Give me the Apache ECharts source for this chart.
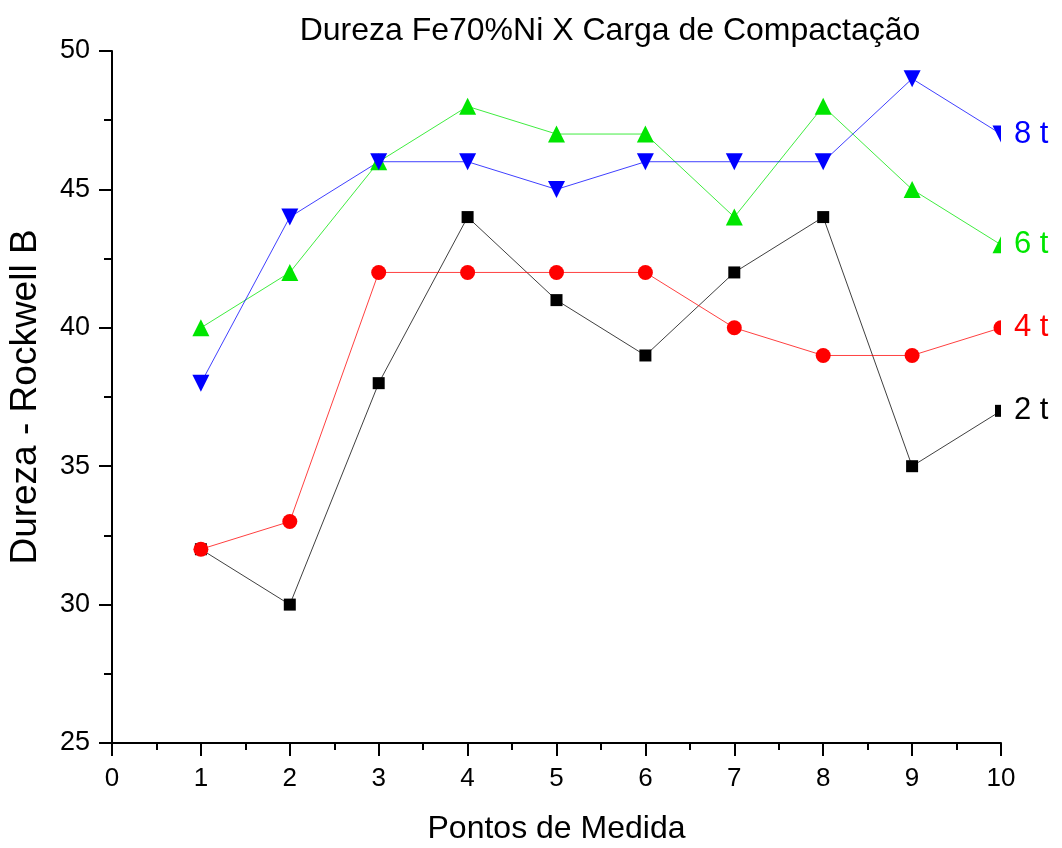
<!DOCTYPE html>
<html>
<head>
<meta charset="utf-8">
<script src="https://cdn.jsdelivr.net/npm/echarts@6/dist/echarts.min.js"></script>
<style>
  html, body { margin: 0; padding: 0; background: #fff; }
  #chart { width: 1062px; height: 848px; }
</style>
</head>
<body>
<div id="chart"></div>
<script>
// Hardness (Rockwell B) of Fe70%Ni at each measuring point, per compaction load
const pontos = [1, 2, 3, 4, 5, 6, 7, 8, 9, 10];
const carga2t = [32, 30, 38, 44, 41, 39, 42, 44, 35, 37];
const carga4t = [32, 33, 42, 42, 42, 42, 40, 39, 39, 40];
const carga6t = [40, 42, 46, 48, 47, 47, 44, 48, 45, 43];
const carga8t = [38, 44, 46, 46, 45, 46, 46, 46, 49, 47];
const nomes = ['2 t', '4 t', '6 t', '8 t'];
const xTicks = [0, 1, 2, 3, 4, 5, 6, 7, 8, 9, 10];
const yTicks = [25, 30, 35, 40, 45, 50];

const FONT = '"Liberation Sans", Arial, sans-serif';

// Left halves of each marker, used at the right border where the plot clips them
const halfSymbols = {
  rect: 'path://M0,0 L1,0 L1,1 L0,1 Z',
  circle: 'path://M10,0 A10,10 0 0 0 10,20 Z',
  triangle: 'path://M10,0 L10,20 L0,20 Z',
  triangleDown: 'path://M0,0 L10,0 L10,20 Z'
};

function makeSeries(name, values, color, symbol, symbolSize, symbolRotate) {
  const data = values.map((v, i) => {
    const item = { value: [pontos[i], v] };
    if (i === values.length - 1) {
      item.symbol = halfSymbols[symbol];
      item.symbolSize = [symbolSize / 2, symbolSize];
      item.symbolOffset = [-symbolSize / 4, 0];
      item.symbolRotate = 0;
      item.label = {
        show: true,
        position: 'right',
        distance: 13,
        formatter: name,
        color: color,
        fontFamily: FONT,
        fontSize: 31
      };
    }
    return item;
  });
  return {
    name: name,
    type: 'line',
    data: data,
    symbol: symbol === 'triangleDown' ? 'triangle' : symbol,
    symbolRotate: symbolRotate || 0,
    symbolSize: symbolSize,
    clip: false,
    itemStyle: { color: color },
    lineStyle: { color: color, width: 1, opacity: 0.75 },
    label: { show: false },
    emphasis: { disabled: true }
  };
}

const chart = echarts.init(document.getElementById('chart'), null, { renderer: 'canvas' });
chart.setOption({
  animation: false,
  backgroundColor: '#ffffff',
  title: {
    text: 'Dureza Fe70%Ni X Carga de Compactação',
    left: 605,
    textAlign: 'center',
    top: 10,
    textStyle: { fontFamily: FONT, fontSize: 32, fontWeight: 'normal', color: '#000' }
  },
  grid: { left: 112, right: 61, top: 51, bottom: 105, containLabel: false, outerBoundsMode: 'none' },
  xAxis: {
    type: 'value',
    min: xTicks[0],
    max: xTicks[xTicks.length - 1],
    interval: 1,
    name: 'Pontos de Medida',
    nameLocation: 'middle',
    nameGap: 70,
    nameTextStyle: { fontFamily: FONT, fontSize: 32, color: '#000' },
    axisLine: { lineStyle: { color: '#000', width: 2 } },
    axisTick: { show: true, inside: false, length: 13, lineStyle: { color: '#000', width: 2 } },
    minorTick: { show: true, splitNumber: 2, length: 7, lineStyle: { color: '#000', width: 2 } },
    axisLabel: { fontFamily: FONT, fontSize: 26, color: '#000', margin: 23 },
    splitLine: { show: false }
  },
  yAxis: {
    type: 'value',
    min: yTicks[0],
    max: yTicks[yTicks.length - 1],
    interval: 5,
    name: 'Dureza - Rockwell B',
    nameLocation: 'middle',
    nameGap: 68,
    nameTextStyle: { fontFamily: FONT, fontSize: 37, color: '#000' },
    axisLine: { show: true, lineStyle: { color: '#000', width: 2 } },
    axisTick: { show: true, inside: false, length: 13, lineStyle: { color: '#000', width: 2 } },
    minorTick: { show: true, splitNumber: 2, length: 8, lineStyle: { color: '#000', width: 2 } },
    axisLabel: { fontFamily: FONT, fontSize: 27, color: '#000', margin: 22 },
    splitLine: { show: false }
  },
  series: [
    makeSeries(nomes[0], carga2t, '#000000', 'rect', 12),
    makeSeries(nomes[1], carga4t, '#ff0000', 'circle', 15),
    makeSeries(nomes[2], carga6t, '#00e600', 'triangle', 17),
    makeSeries(nomes[3], carga8t, '#0000ff', 'triangleDown', 17, 180)
  ]
});
</script>
</body>
</html>
